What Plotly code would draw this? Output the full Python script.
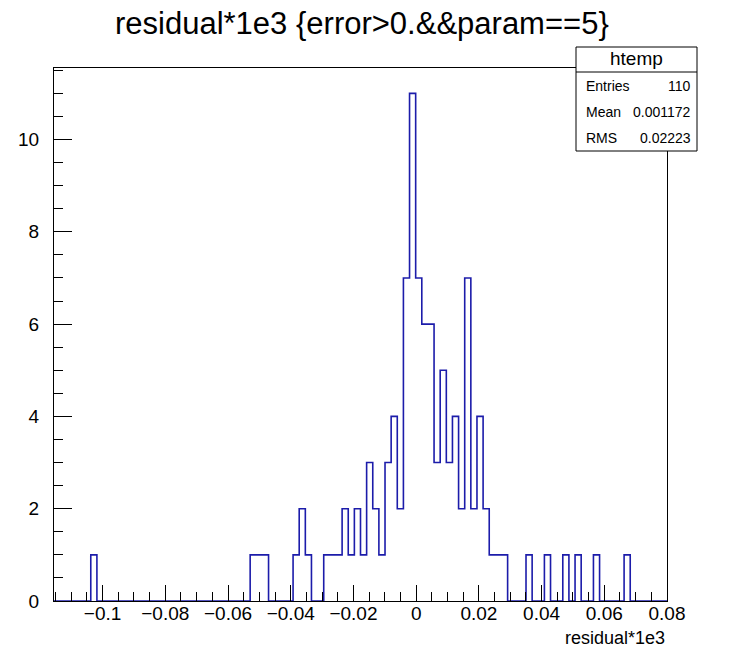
import numpy as np
import plotly.graph_objects as go

# Histogram definition: 100 bins over the x range
n_bins = 100
x_min = -0.1155
x_max = 0.0800

# Non-empty bins (bin index -> entries)
bin_index = [6, 32, 33, 34, 39, 40, 41, 44, 45, 46, 47, 48, 49, 50, 51, 52, 53, 54,
             55, 56, 57, 58, 59, 60, 61, 62, 63, 64, 65, 66, 67, 68, 69, 70, 71, 72,
             73, 77, 80, 83, 85, 88, 93]
bin_count = [1, 1, 1, 1, 1, 2, 1, 1, 1, 1, 2, 1, 2, 1, 3, 2, 1, 3,
             4, 2, 7, 11, 7, 6, 6, 3, 5, 3, 4, 2, 7, 2, 4, 2, 1, 1,
             1, 1, 1, 1, 1, 1, 1]

# Axis tick labels
x_tick_vals = [-0.1, -0.08, -0.06, -0.04, -0.02, 0.0, 0.02, 0.04, 0.06, 0.08]
x_tick_text = ["\u22120.1", "\u22120.08", "\u22120.06", "\u22120.04", "\u22120.02",
               "0", "0.02", "0.04", "0.06", "0.08"]
y_tick_vals = [0, 2, 4, 6, 8, 10]

# Statistics box contents
hist_name = "htemp"
stat_labels = ["Entries", "Mean", "RMS"]
stat_mean = "0.001172"
stat_rms = "0.02223"

title_text = "residual*1e3 {error>0.&&param==5}"
x_title = "residual*1e3"

counts = np.zeros(n_bins)
counts[bin_index] = bin_count
edges = np.linspace(x_min, x_max, n_bins + 1)
entries = int(counts.sum())
stat_values = [str(entries), stat_mean, stat_rms]

# step outline: each bin level held across the bin, closing at the last edge
step_x = list(edges)
step_y = list(counts) + [counts[-1]]

W, H = 737, 652
L, R, T, B = 54, 667, 68, 601
FONT = "Liberation Sans, Arial, Helvetica, sans-serif"


def px(x):
    return (x - L) / (R - L)


def py(y):
    return (B - y) / (B - T)


fig = go.Figure()
fig.add_trace(go.Scatter(
    x=step_x, y=step_y, mode="lines",
    line=dict(color="#1c1caa", width=1.6, shape="hv"),
    hoverinfo="skip", showlegend=False,
))

y_top = counts.max() * 1.05

fig.update_layout(
    width=W, height=H,
    margin=dict(l=L, r=W - R, t=T, b=H - B),
    paper_bgcolor="white", plot_bgcolor="white",
    font=dict(family=FONT, color="black"),
    showlegend=False,
    xaxis=dict(
        range=[x_min, x_max], showgrid=False, zeroline=False,
        showline=True, linecolor="black", linewidth=1, mirror=True,
        ticks="inside", ticklen=16, tickwidth=1, tickcolor="black",
        tickvals=x_tick_vals, ticktext=x_tick_text,
        tickfont=dict(size=19, family=FONT, color="black"),
        ticklabelstandoff=-5,
        minor=dict(ticks="inside", ticklen=9, tickwidth=1, tickcolor="black",
                   dtick=0.005, tick0=0, showgrid=False),
    ),
    yaxis=dict(
        range=[0, y_top], showgrid=False, zeroline=False,
        showline=True, linecolor="black", linewidth=1, mirror=True,
        ticks="inside", ticklen=18, tickwidth=1, tickcolor="black",
        tickvals=y_tick_vals,
        tickfont=dict(size=19, family=FONT, color="black"),
        ticklabelstandoff=10,
        minor=dict(ticks="inside", ticklen=9, tickwidth=1, tickcolor="black",
                   dtick=0.5, tick0=0, showgrid=False),
    ),
)

# title
fig.add_annotation(
    text=title_text, xref="paper", yref="paper",
    x=px(362), y=py(23), xanchor="center", yanchor="middle",
    showarrow=False, font=dict(size=31, family=FONT, color="black"),
)

# x-axis title, right-aligned at the end of the axis
fig.add_annotation(
    text=x_title, xref="paper", yref="paper",
    x=px(R), y=py(638), xanchor="right", yanchor="middle",
    showarrow=False, font=dict(size=18, family=FONT, color="black"),
)

# statistics box
bx0, bx1, by0, by1, by_sep = 576, 697, 47, 151, 72
fig.add_shape(type="rect", xref="paper", yref="paper",
              x0=px(bx0), x1=px(bx1), y0=py(by1), y1=py(by0),
              line=dict(color="black", width=1), fillcolor="white", layer="above")
fig.add_shape(type="line", xref="paper", yref="paper",
              x0=px(bx0), x1=px(bx1), y0=py(by_sep), y1=py(by_sep),
              line=dict(color="black", width=1), layer="above")
fig.add_annotation(
    text=hist_name, xref="paper", yref="paper",
    x=px((bx0 + bx1) / 2), y=py(59), xanchor="center", yanchor="middle",
    showarrow=False, font=dict(size=19, family=FONT, color="black"),
)
row_y = [86, 112, 138]
for lab, val, yy in zip(stat_labels, stat_values, row_y):
    fig.add_annotation(text=lab, xref="paper", yref="paper",
                       x=px(584), y=py(yy), xanchor="left", yanchor="middle",
                       showarrow=False, font=dict(size=14, family=FONT, color="black"))
    fig.add_annotation(text=val, xref="paper", yref="paper",
                       x=px(693), y=py(yy), xanchor="right", yanchor="middle",
                       showarrow=False, font=dict(size=14, family=FONT, color="black"))

fig.write_html("out.html")
